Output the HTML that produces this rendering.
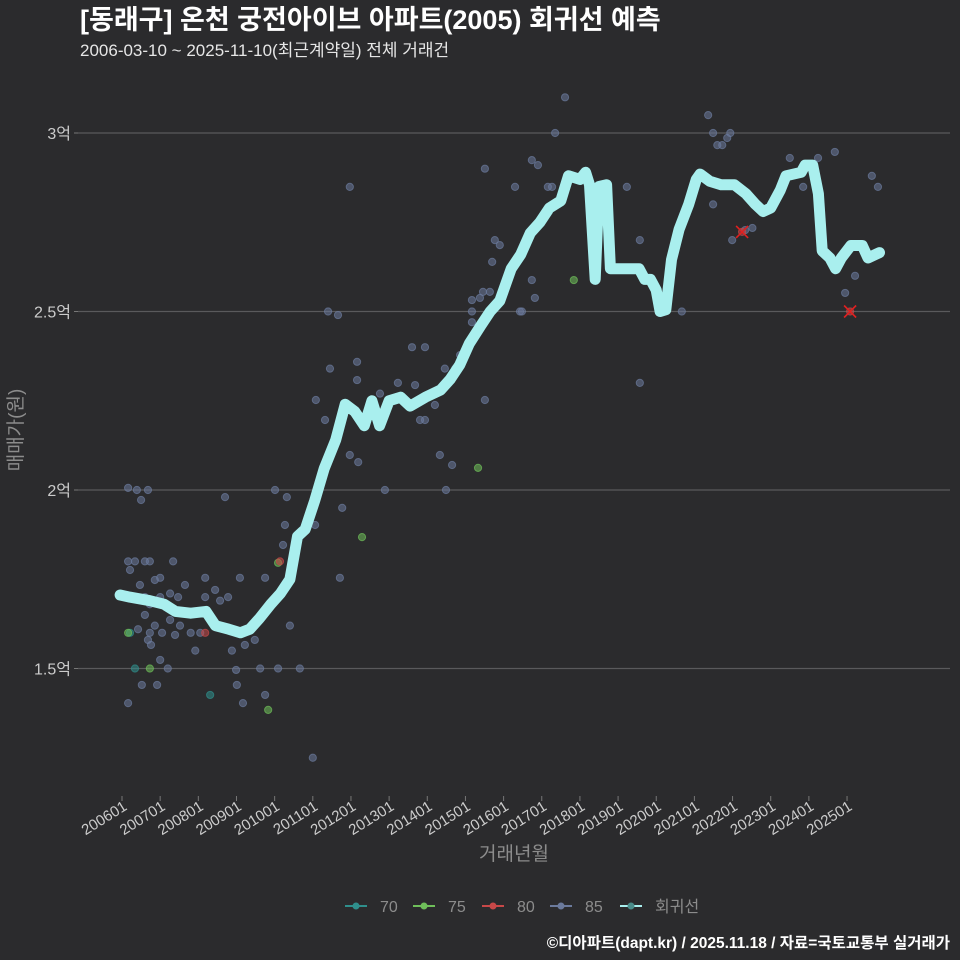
<!DOCTYPE html>
<html><head><meta charset="utf-8">
<style>
html,body{margin:0;padding:0;background:#2b2b2d;}
svg{display:block;font-family:"Liberation Sans","Noto Sans CJK KR",sans-serif;}
</style></head>
<body>
<svg id="chart" width="960" height="960" viewBox="0 0 960 960">
<rect width="960" height="960" fill="#2b2b2d"/>
<text x="80" y="29" fill="#ffffff" font-size="27" font-weight="bold">[동래구] 온천 궁전아이브 아파트(2005) 회귀선 예측</text>
<text x="80" y="56" fill="#e6e6e6" font-size="17">2006-03-10 ~ 2025-11-10(최근계약일) 전체 거래건</text>
<g id="grid"></g>
<g id="points"></g>
<g id="reg"></g>
<g id="xaxis"></g>
<text x="514" y="860" fill="#8c8c8c" font-size="19" text-anchor="middle">거래년월</text>
<text transform="translate(22,430) rotate(-90)" fill="#8c8c8c" font-size="19" text-anchor="middle">매매가(원)</text>
<g id="legend"></g>
<text x="950" y="948" fill="#ffffff" font-size="15.5" font-weight="bold" text-anchor="end">©디아파트(dapt.kr) / 2025.11.18 / 자료=국토교통부 실거래가</text>
</svg>
<script>
const yTicks=[1.5,2,2.5,3];
const yTickLabels=["1.5억","2억","2.5억","3억"];
const xTickYears=[2006,2007,2008,2009,2010,2011,2012,2013,2014,2015,2016,2017,2018,2019,2020,2021,2022,2023,2024,2025];
const xTickLabels=xTickYears.map(y=>y+"01");
const s70=[[2006.21,1.60],[2006.34,1.50],[2008.31,1.426]];
const s75=[[2006.16,1.60],[2006.73,1.50],[2009.83,1.384],[2010.09,1.796],[2012.29,1.868],[2015.33,2.062],[2017.84,2.588]];
const s80=[[2008.18,1.60],[2010.14,1.80],[2022.25,2.723],[2025.08,2.50]];
const crossPts=[[2022.25,2.723],[2025.08,2.50]];
const s85=[[2006.16,2.006],[2006.39,2.0],[2006.68,2.0],[2006.5,1.972],[2006.16,1.80],[2006.34,1.80],[2006.6,1.80],[2006.73,1.80],[2007.34,1.80],[2006.21,1.776],[2006.47,1.734],[2006.86,1.748],[2007.0,1.754],[2006.6,1.70],[2006.73,1.68],[2007.0,1.70],[2007.26,1.71],[2007.47,1.70],[2007.65,1.734],[2006.42,1.61],[2006.73,1.60],[2006.86,1.62],[2007.05,1.60],[2007.26,1.636],[2006.6,1.65],[2006.68,1.58],[2006.76,1.566],[2007.0,1.524],[2006.52,1.454],[2006.92,1.454],[2006.16,1.403],[2007.2,1.50],[2007.39,1.594],[2007.52,1.62],[2007.8,1.60],[2007.92,1.55],[2008.05,1.60],[2008.18,1.70],[2008.18,1.754],[2008.44,1.72],[2008.57,1.69],[2008.7,1.98],[2008.78,1.70],[2008.88,1.55],[2008.99,1.496],[2009.01,1.454],[2009.22,1.566],[2009.09,1.754],[2009.17,1.403],[2009.48,1.58],[2009.62,1.50],[2009.75,1.426],[2009.75,1.754],[2009.88,1.678],[2010.01,2.0],[2010.09,1.50],[2010.22,1.846],[2010.27,1.902],[2010.4,1.62],[2010.32,1.98],[2010.66,1.50],[2010.98,1.944],[2011.06,1.902],[2011.08,2.252],[2011.0,1.25],[2011.4,2.50],[2011.45,2.34],[2011.32,2.196],[2011.66,2.49],[2011.77,1.95],[2011.71,1.754],[2011.97,2.849],[2011.97,2.098],[2012.16,2.359],[2012.16,2.308],[2012.19,2.078],[2012.89,2.0],[2012.5,2.224],[2012.76,2.27],[2013.23,2.30],[2013.6,2.40],[2013.94,2.40],[2013.68,2.294],[2013.81,2.196],[2013.94,2.196],[2014.2,2.238],[2014.33,2.098],[2014.49,2.0],[2014.46,2.34],[2014.65,2.07],[2014.73,2.34],[2014.86,2.378],[2015.17,2.532],[2015.17,2.50],[2015.17,2.47],[2015.38,2.538],[2015.46,2.555],[2015.51,2.252],[2015.51,2.90],[2015.64,2.555],[2015.7,2.639],[2015.77,2.70],[2015.9,2.686],[2016.3,2.849],[2016.43,2.50],[2016.48,2.50],[2016.74,2.588],[2016.82,2.538],[2016.74,2.924],[2016.9,2.91],[2017.16,2.849],[2017.27,2.849],[2017.35,3.0],[2017.61,3.10],[2019.23,2.849],[2019.57,2.30],[2019.57,2.70],[2020.67,2.50],[2021.36,3.05],[2021.49,3.0],[2021.6,2.966],[2021.73,2.966],[2021.86,2.986],[2021.94,3.0],[2021.49,2.80],[2021.99,2.70],[2022.33,2.728],[2022.52,2.734],[2022.73,2.784],[2023.85,2.849],[2024.24,2.93],[2024.68,2.947],[2024.95,2.552],[2025.21,2.60],[2025.65,2.88],[2025.81,2.849],[2023.5,2.93]];
const regT=[2005.95,2006.2,2006.73,2007.1,2007.4,2007.8,2008.2,2008.45,2008.8,2009.1,2009.35,2009.6,2009.9,2010.15,2010.4,2010.6,2010.8,2011.05,2011.3,2011.6,2011.85,2012.1,2012.35,2012.55,2012.75,2013.0,2013.3,2013.55,2013.95,2014.35,2014.6,2014.85,2015.1,2015.4,2015.65,2015.9,2016.2,2016.45,2016.7,2016.95,2017.2,2017.5,2017.7,2018.0,2018.15,2018.25,2018.4,2018.5,2018.7,2018.8,2019.55,2019.7,2019.85,2020.0,2020.1,2020.25,2020.4,2020.6,2020.85,2021.05,2021.15,2021.4,2021.7,2022.05,2022.35,2022.6,2022.8,2023.0,2023.25,2023.4,2023.8,2023.9,2024.1,2024.25,2024.35,2024.55,2024.7,2024.85,2025.1,2025.4,2025.55,2025.75,2025.85];
const regV=[1.706,1.70,1.69,1.68,1.66,1.655,1.66,1.62,1.61,1.60,1.61,1.64,1.68,1.71,1.75,1.87,1.89,1.97,2.06,2.14,2.24,2.22,2.18,2.25,2.18,2.25,2.26,2.235,2.26,2.28,2.31,2.35,2.41,2.46,2.50,2.53,2.62,2.66,2.72,2.75,2.79,2.81,2.88,2.87,2.89,2.855,2.59,2.85,2.855,2.62,2.62,2.59,2.59,2.56,2.50,2.505,2.645,2.73,2.80,2.87,2.885,2.865,2.855,2.855,2.83,2.80,2.78,2.79,2.84,2.88,2.89,2.91,2.91,2.83,2.67,2.65,2.62,2.65,2.685,2.685,2.65,2.66,2.665];

const NS="http://www.w3.org/2000/svg";
const X0=122,PXY=38.16,Y0=490,PXV=357;
function xs(t){return X0+(t-2006)*PXY;}
function ys(v){return Y0-(v-2)*PXV;}
function mk(tag,attrs,parent){const e=document.createElementNS(NS,tag);for(const k in attrs)e.setAttribute(k,attrs[k]);parent.appendChild(e);return e;}

const grid=document.getElementById('grid');
yTicks.forEach((v,i)=>{
  const l=mk('line',{x1:78,x2:950,y1:ys(v),y2:ys(v),stroke:'#5a5a5c','stroke-width':1.3},grid);
  
  
  const tk=mk('line',{x1:74,x2:78,y1:ys(v),y2:ys(v),stroke:'#777','stroke-width':1},grid);
  
  
  const t=mk('text',{x:71,y:ys(v)+6,fill:'#cccccc','font-size':16,'text-anchor':'end'},grid);
  t.textContent=yTickLabels[i];
  
  
});
const xa=document.getElementById('xaxis');
xTickYears.forEach((y,i)=>{
  const x=xs(y);
  const tk=mk('line',{x1:x,x2:x,y1:796,y2:801,stroke:'#777','stroke-width':1},xa);
  
  
  const t=mk('text',{x:x+6,y:809,fill:'#cccccc','font-size':15,'text-anchor':'end',transform:`rotate(-32 ${x+6} 809)`},xa);
  t.textContent=xTickLabels[i];
  
  
});

const pg=document.getElementById('points');
function drawSeries(arr,color,name){
  arr.forEach(p=>{
    const c=mk('circle',{cx:xs(p[0]),cy:ys(p[1]),r:3.6,fill:color,'fill-opacity':0.55,stroke:color,'stroke-opacity':0.7},pg);
    
    
  });
}
drawSeries(s85,'#6b7a9c','point-85');
drawSeries(s70,'#2f8f8c','point-70');
drawSeries(s75,'#6fbf5a','point-75');
drawSeries(s80,'#c84848','point-80');
crossPts.forEach(p=>{
  const x=xs(p[0]),y=ys(p[1]);
  const g=mk('path',{d:`M${x-6} ${y-6}L${x+6} ${y+6}M${x+6} ${y-6}L${x-6} ${y+6}`,stroke:'#e02020','stroke-width':1.6},pg);
  
  
});

const rg=document.getElementById('reg');
const d=regT.map((t,i)=>(i?'L':'M')+xs(t).toFixed(1)+' '+ys(regV[i]).toFixed(1)).join('');
const rl=mk('path',{d:d,fill:'none',stroke:'#a9efee','stroke-width':11,'stroke-linejoin':'round','stroke-linecap':'round'},rg);



const lg=document.getElementById('legend');
const legItems=[["70","#2f8f8c",345],["75","#6fbf5a",413],["80","#c84848",482],["85","#6b7a9c",550],["회귀선","#a9efee",620]];
legItems.forEach(it=>{
  const g=mk('g',{},lg);
  
  
  mk('line',{x1:it[2],x2:it[2]+22,y1:906,y2:906,stroke:it[1],'stroke-width':2},g);
  mk('circle',{cx:it[2]+11,cy:906,r:3.5,fill:it[0]==="회귀선"?'#4a8c8a':it[1]},g);
  const t=mk('text',{x:it[2]+35,y:912,fill:'#8c8c8c','font-size':16},g);
  t.textContent=it[0];
});
</script>
</body></html>
